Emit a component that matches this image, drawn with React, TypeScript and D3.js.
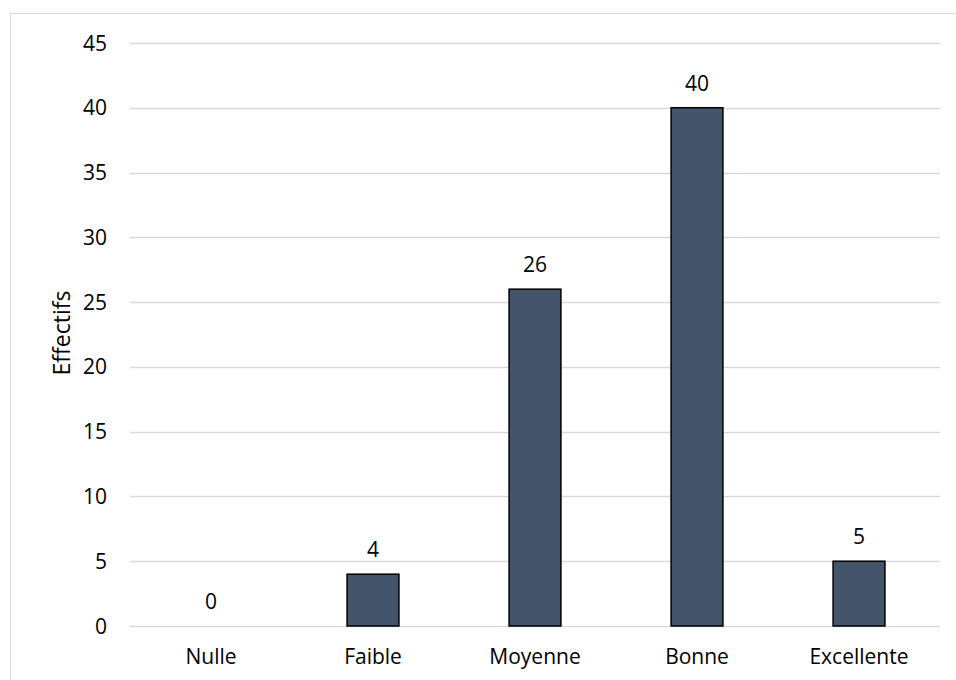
import React from "react";
import * as d3 from "d3";

const categories = ["Nulle", "Faible", "Moyenne", "Bonne", "Excellente"];
const values = [0, 4, 26, 40, 5];
const yTicks = [0, 5, 10, 15, 20, 25, 30, 35, 40, 45];
const yLabel = "Effectifs";

export default function App() {
  const W = 956, H = 680;
  const left = 130, right = 940, top = 43, bottom = 626;
  const x = d3.scaleBand<string>().domain(categories).range([left, right]);
  const y = d3.scaleLinear().domain([0, 45]).range([bottom, top]);
  const barW = x.bandwidth() * 0.32;
  const font = "'Open Sans', 'Liberation Sans', sans-serif";
  const fs = 21;
  return (
    <svg width={W} height={H} style={{ position: "absolute", left: 0, top: 0, background: "#fff" }} fontFamily={font}>
      <rect x={10.5} y={13.5} width={960} height={700} fill="#fff" stroke="#d9d9d9" strokeWidth={1} />
      {yTicks.map((t) => (
        <g key={t}>
          <line x1={left} x2={right} y1={Math.round(y(t)) + 0.5} y2={Math.round(y(t)) + 0.5} stroke="#d9d9d9" strokeWidth={1.3} />
          <text x={107} y={y(t)} dy="0.36em" textAnchor="end" fontSize={fs} fill="#000">{t}</text>
        </g>
      ))}
      {categories.map((c, i) => {
        const cx = (x(c) as number) + x.bandwidth() / 2;
        const v = values[i];
        return (
          <g key={c}>
            {v > 0 && (
              <rect x={cx - barW / 2} y={y(v)} width={barW} height={y(0) - y(v)} fill="#44546A" stroke="#000" strokeWidth={1.5} />
            )}
            <text x={cx} y={y(v) - 17} textAnchor="middle" fontSize={fs} fill="#000">{v}</text>
            <text x={cx} y={664} textAnchor="middle" fontSize={fs} fill="#000">{c}</text>
          </g>
        );
      })}
      <text transform={`translate(70,333) rotate(-90)`} textAnchor="middle" fontSize={23} fill="#000">{yLabel}</text>
    </svg>
  );
}
